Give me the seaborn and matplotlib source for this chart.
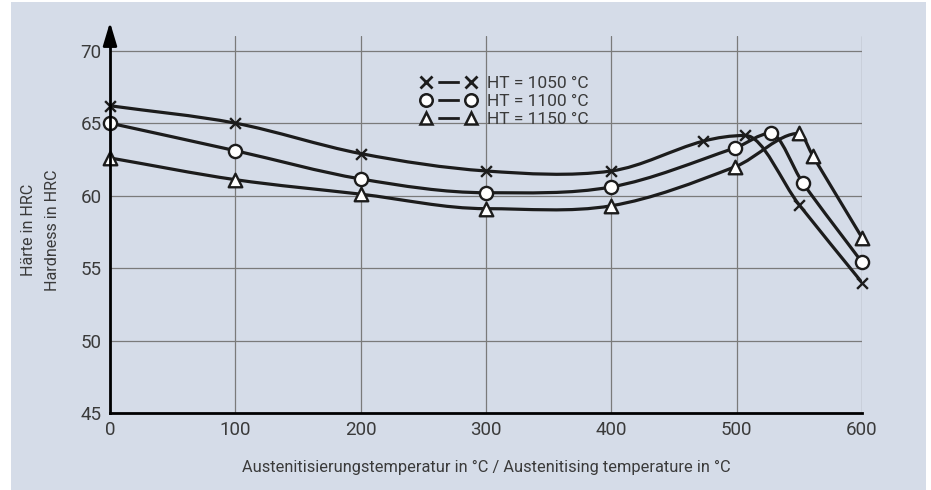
import numpy as np
import pandas as pd
import matplotlib
matplotlib.use("Agg")
import matplotlib.pyplot as plt
from matplotlib.path import Path
from matplotlib.patches import PathPatch, Rectangle
from matplotlib.lines import Line2D
import seaborn as sns

# Data (temperature in °C, hardness in HRC)
temp_1050 = [0, 100, 200, 300, 400, 473, 507, 550, 600]
hrc_1050 = [66.2, 65.0, 62.9, 61.7, 61.7, 63.75, 64.15, 59.35, 54.0]

temp_1100 = [0, 100, 200, 300, 400, 499, 527, 553, 600]
hrc_1100 = [65.0, 63.1, 61.15, 60.2, 60.6, 63.3, 64.3, 60.85, 55.4]

temp_1150 = [0, 100, 200, 300, 400, 499, 550, 561, 600]
hrc_1150 = [62.6, 61.1, 60.1, 59.1, 59.3, 62.0, 64.3, 62.7, 57.1]

series_labels = ["HT = 1050 °C", "HT = 1100 °C", "HT = 1150 °C"]
x_ticks = [0, 100, 200, 300, 400, 500, 600]
y_ticks = [45, 50, 55, 60, 65, 70]

BG = "#d5dce8"
INK = "#1c1c1c"
TXT = "#3a3a3a"
GRID = "#7a7a7a"

sns.set_theme(style="white")
plt.rcParams["font.family"] = ["Roboto", "DejaVu Sans"]
plt.rcParams["lines.scale_dashes"] = False

W, H = 931, 490
fig = plt.figure(figsize=(W / 100, H / 100), dpi=100, facecolor="white")
fig.patches.append(Rectangle((11 / W, 0), 915 / W, 488 / H, transform=fig.transFigure,
                             facecolor=BG, edgecolor="none", zorder=-5))
ax = fig.add_axes([110 / W, 77 / H, 752 / W, 376.8 / H])
ax.set_facecolor(BG)


def smooth_path(xs, ys):
    # smooth curve through the read points: cubic Hermite in x, flat at local peaks
    x = np.asarray(xs, float)
    y = np.asarray(ys, float)
    sec = np.diff(y) / np.diff(x)
    m = np.empty_like(y)
    m[0], m[-1] = sec[0], sec[-1]
    for i in range(1, len(x) - 1):
        if sec[i - 1] * sec[i] < 0:
            m[i] = 0.0
        else:
            m[i] = (y[i + 1] - y[i - 1]) / (x[i + 1] - x[i - 1])
    verts = [(x[0], y[0])]
    codes = [Path.MOVETO]
    for i in range(len(x) - 1):
        h = (x[i + 1] - x[i]) / 3
        verts += [(x[i] + h, y[i] + m[i] * h), (x[i + 1] - h, y[i + 1] - m[i + 1] * h),
                  (x[i + 1], y[i + 1])]
        codes += [Path.CURVE4] * 3
    return Path(verts, codes)


styles = [
    dict(marker="x", s=60, color=INK, linewidth=1.7),
    dict(marker="o", s=90, color="white", edgecolor=INK, linewidth=1.7),
    dict(marker="^", s=95, color="white", edgecolor=INK, linewidth=1.7),
]
data = [(temp_1050, hrc_1050), (temp_1100, hrc_1100), (temp_1150, hrc_1150)]

for (xs, ys), st in zip(data, styles):
    ax.add_patch(PathPatch(smooth_path(xs, ys), facecolor="none", edgecolor=INK,
                           lw=2.3, zorder=3, capstyle="round"))
    df = pd.DataFrame({"temp": xs, "hrc": ys})
    sns.scatterplot(data=df, x="temp", y="hrc", ax=ax, zorder=4, clip_on=False,
                    legend=False, **st)

ax.set_xlim(0, 600)
ax.set_ylim(45, 71)
ax.set_xticks(x_ticks)
ax.set_yticks(y_ticks)
ax.grid(True, color=GRID, lw=0.9)
ax.get_ygridlines()[0].set_visible(False)
ax.tick_params(length=0, labelsize=13.5, colors=TXT)
ax.tick_params(axis="x", pad=6)
ax.tick_params(axis="y", pad=6)

for side in ["top", "right"]:
    ax.spines[side].set_visible(False)
for side in ["left", "bottom"]:
    ax.spines[side].set_color("black")
    ax.spines[side].set_linewidth(2.0)
    ax.spines[side].set_zorder(5)

ax.annotate("", xy=(0, 1.037), xytext=(0, 0.98), xycoords="axes fraction",
            annotation_clip=False,
            arrowprops=dict(arrowstyle="-|>,head_length=1.0,head_width=0.3",
                            mutation_scale=14, color="black", lw=2,
                            shrinkA=0, shrinkB=0))

ax.set_xlabel("Austenitisierungstemperatur in °C / Austenitising temperature in °C",
              fontsize=11.8, color=TXT, labelpad=15)
ax.set_ylabel("Härte in HRC\nHardness in HRC", fontsize=11.6, color=TXT,
              linespacing=1.75)
ax.yaxis.set_label_coords(-0.092, 0.486)
ax.yaxis.label.set_va("center")

# legend handle: markers at both ends, short dash between them
leg_fs = 12.5
hl = 3.2
span = hl * leg_fs - 2 * 0.3 * leg_fs   # distance between the two marker centres
gap = 8.5
on = span - 2 * gap
dash = (on + 100 - gap, (on, 100))
handles = [
    Line2D([0], [0], color=INK, lw=2, ls=dash, marker="x", markersize=8, mew=2),
    Line2D([0], [0], color=INK, lw=2, ls=dash, marker="o", markersize=9,
           mfc="white", mec=INK, mew=1.8),
    Line2D([0], [0], color=INK, lw=2, ls=dash, marker="^", markersize=9,
           mfc="white", mec=INK, mew=1.8),
]
ax.legend(handles, series_labels, numpoints=2, frameon=False, fontsize=leg_fs,
          handlelength=hl, handletextpad=0.6, labelspacing=0.15,
          loc="upper left", bbox_to_anchor=(421 / W, 1 - 76 / H),
          bbox_transform=fig.transFigure, borderpad=0, borderaxespad=0,
          labelcolor=TXT)

fig.savefig("out.png", dpi=100, facecolor="white")
